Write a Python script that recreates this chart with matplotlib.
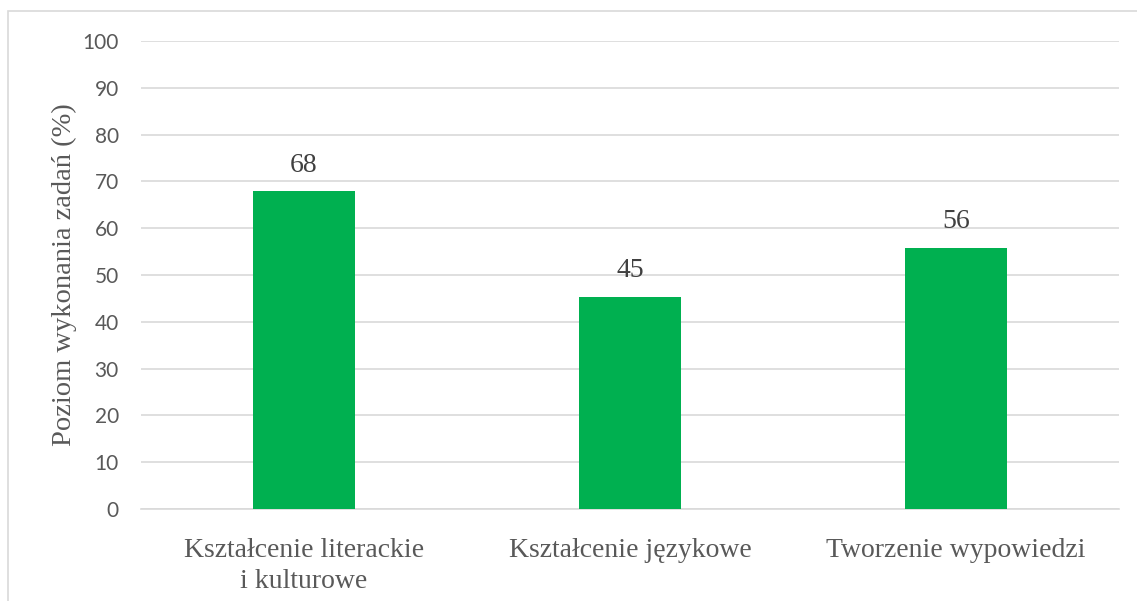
import matplotlib.pyplot as plt
from matplotlib.patches import Rectangle

# data
categories = ["Kształcenie literackie\ni kulturowe", "Kształcenie językowe", "Tworzenie wypowiedzi"]
values = [67.9, 45.3, 55.8]
yticks = [0, 10, 20, 30, 40, 50, 60, 70, 80, 90, 100]

text_color = "#595959"
serif = "Liberation Serif"

fig = plt.figure(figsize=(11.37, 6.01), dpi=100)
ax = fig.add_axes([0.124, 0.153, 0.86, 0.779])

# chart border (Excel style)
fig.patches.append(Rectangle((8 / 1137, -0.1), 1.2, 1 - 11 / 601 + 0.1,
                             transform=fig.transFigure, fill=False,
                             edgecolor="#d9d9d9", linewidth=1.2))

x = range(len(categories))
bars = ax.bar(x, values, width=0.313, color="#00b050", zorder=3)

for b, v in zip(bars, values):
    ax.text(b.get_x() + b.get_width() / 2, v + 2.9, f"{v:.0f}",
            ha="center", va="bottom", fontsize=20, family=serif, color="#404040")

ax.set_xlim(-0.5, 2.5)
ax.set_ylim(0, 100)
ax.set_yticks(yticks)
ax.set_yticklabels([str(t) for t in yticks], family="Lato", fontsize=15, color=text_color)
ax.set_xticks(list(x))
ax.set_xticklabels(categories, family=serif, fontsize=20, color=text_color, linespacing=1.3)
ax.tick_params(axis="both", length=0)
ax.tick_params(axis="y", pad=16)
ax.tick_params(axis="x", pad=21)

ax.grid(axis="y", color="#d9d9d9", linewidth=1.2, zorder=0)
for side in ["top", "right", "left"]:
    ax.spines[side].set_visible(False)
ax.spines["bottom"].set_color("#d9d9d9")
ax.spines["bottom"].set_linewidth(1.2)

ax.set_ylabel("Poziom wykonania zadań (%)", family=serif, fontsize=20.5, color=text_color, labelpad=4)

fig.savefig("out.png", dpi=100)
